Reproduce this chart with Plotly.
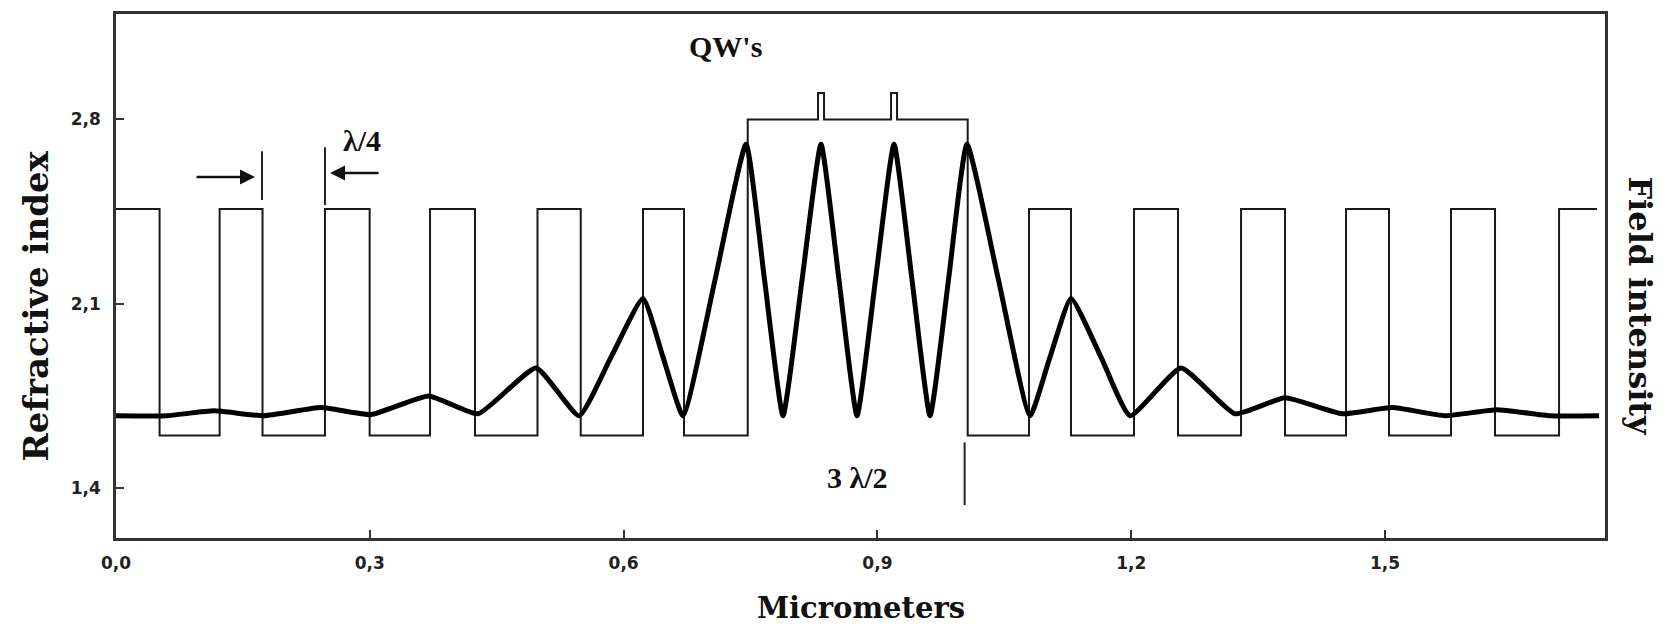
import plotly.graph_objects as go

# ---------------- data ----------------
# refractive-index profile: layer boundaries (micrometers) and index of each layer
layer_edges_um = [0.0, 0.0515, 0.1225, 0.1732, 0.2470, 0.2998, 0.3712, 0.4243, 0.4982, 0.5493, 0.6229, 0.6714,
                  0.7467, 0.8298, 0.8369, 0.9161, 0.9232, 1.0067,
                  1.0792, 1.1288, 1.2033, 1.2553, 1.3298, 1.3818, 1.4539, 1.5047, 1.5780, 1.6300, 1.7057, 1.7506]
layer_index = [2.46, 1.60, 2.46, 1.60, 2.46, 1.60, 2.46, 1.60, 2.46, 1.60, 2.46, 1.60,
               2.80, 2.90, 2.80, 2.90, 2.80,
               1.60, 2.46, 1.60, 2.46, 1.60, 2.46, 1.60, 2.46, 1.60, 2.46, 1.60, 2.46]

# optical field intensity (normalised, arbitrary units)
field_x_um = [0.0, 0.060, 0.1158, 0.1749, 0.2423, 0.3014, 0.3695, 0.4279, 0.4965, 0.5473, 0.5851, 0.6229,
              0.6466, 0.6702, 0.708, 0.7447, 0.7666, 0.7884, 0.8109, 0.8333, 0.8546, 0.8759, 0.8977,
              0.9196, 0.9409, 0.9622, 0.9840, 1.0059, 1.0431, 1.0804, 1.1040, 1.1288, 1.1643, 1.1986,
              1.2589, 1.3227, 1.3818, 1.4492, 1.5083, 1.5709, 1.6324, 1.6950, 1.7530]
field_intensity = [0.0, 0.0, 0.018, 0.0, 0.030, 0.004, 0.073, 0.007, 0.176, 0.0, 0.216, 0.432,
                   0.216, 0.0, 0.50, 1.0, 0.50, 0.0, 0.50, 1.0, 0.50, 0.0, 0.50,
                   1.0, 0.50, 0.0, 0.50, 1.0, 0.50, 0.0, 0.216, 0.432, 0.216, 0.0,
                   0.176, 0.007, 0.066, 0.007, 0.030, 0.0, 0.022, 0.0, 0.0]

x_tick_vals = [0.0, 0.3, 0.6, 0.9, 1.2, 1.5]
x_tick_text = ["0,0", "0,3", "0,6", "0,9", "1,2", "1,5"]
y_tick_vals = [1.4, 2.1, 2.8]
y_tick_text = ["1,4", "2,1", "2,8"]

# ---------------- figure ----------------
SERIF = "Liberation Serif"
TITLE_SERIF = "DejaVu Serif"

fig = go.Figure()

fig.add_trace(go.Scatter(
    x=layer_edges_um, y=layer_index + [layer_index[-1]],
    mode="lines", line=dict(color="#1a1a1a", width=2, shape="hv"),
    showlegend=False, hoverinfo="skip"))

fig.add_trace(go.Scatter(
    x=field_x_um, y=field_intensity, yaxis="y2",
    mode="lines", line=dict(color="black", width=5, shape="spline", smoothing=0.45),
    showlegend=False, hoverinfo="skip"))

axis_line = dict(showline=True, linecolor="#333333", linewidth=2.5, mirror=True,
                 showgrid=False, zeroline=False, ticks="inside", ticklen=8,
                 tickwidth=2, tickcolor="#333333")
tick_font = dict(family="DejaVu Sans", size=17, color="#222", weight="bold")

fig.update_layout(
    width=1668, height=628,
    margin=dict(l=116, r=63, t=11, b=90),
    paper_bgcolor="white", plot_bgcolor="white",
    xaxis=dict(range=[0.0, 1.76], tickvals=x_tick_vals, ticktext=x_tick_text,
               tickfont=tick_font, ticklabelstandoff=8, **axis_line),
    yaxis=dict(range=[1.211, 3.2], tickvals=y_tick_vals, ticktext=y_tick_text,
               tickfont=tick_font, ticklabelstandoff=9, **axis_line),
    yaxis2=dict(overlaying="y", side="right", range=[-0.4505, 1.4799],
                showticklabels=False, showline=False, showgrid=False,
                zeroline=False, ticks=""),
)

ann_font = dict(family=SERIF, size=30, color="#111")
fig.add_annotation(x=0.7210, y=3.075, xref="x", yref="y", text="<b>QW's</b>",
                   showarrow=False, font=ann_font)
fig.add_annotation(x=0.2908, y=2.72, xref="x", yref="y", text="<b>λ/4</b>",
                   showarrow=False, font=ann_font)
fig.add_annotation(x=0.8759, y=1.4415, xref="x", yref="y", text="<b>3 λ/2</b>",
                   showarrow=False, font=ann_font)

# λ/4 arrows
fig.add_annotation(x=0.1643, y=2.581, ax=0.0934, ay=2.581, xref="x", yref="y",
                   axref="x", ayref="y", text="", showarrow=True, arrowhead=2,
                   arrowsize=1.2, arrowwidth=2.5, arrowcolor="#111")
fig.add_annotation(x=0.2530, y=2.596, ax=0.3121, ay=2.596, xref="x", yref="y",
                   axref="x", ayref="y", text="", showarrow=True, arrowhead=2,
                   arrowsize=1.2, arrowwidth=2.5, arrowcolor="#111")

# marker lines
for (xv, y0, y1) in [(0.1726, 2.494, 2.679), (0.2470, 2.475, 2.694), (1.0031, 1.336, 1.574)]:
    fig.add_shape(type="line", xref="x", yref="y", x0=xv, x1=xv, y0=y0, y1=y1,
                  line=dict(color="#222", width=2))

fig.add_annotation(x=0.5, y=-0.1689, xref="paper", yref="paper", text="<b>Micrometers</b>",
                   showarrow=False, font=dict(family=TITLE_SERIF, size=29, color="#111"),
                   xanchor="center", yanchor="bottom")
fig.add_annotation(x=-0.0537, y=0.442, xref="paper", yref="paper", text="<b>Refractive index</b>",
                   showarrow=False, font=dict(family=TITLE_SERIF, size=34, color="#111"),
                   textangle=-90, xanchor="center", yanchor="middle")
fig.add_annotation(x=1.0235, y=0.442, xref="paper", yref="paper", text="<b>Field intensity</b>",
                   showarrow=False, font=dict(family=TITLE_SERIF, size=32, color="#111"),
                   textangle=90, xanchor="center", yanchor="middle")

fig.write_html("out.html", config={"displayModeBar": False},
               post_script="document.body.style.margin='0';")
